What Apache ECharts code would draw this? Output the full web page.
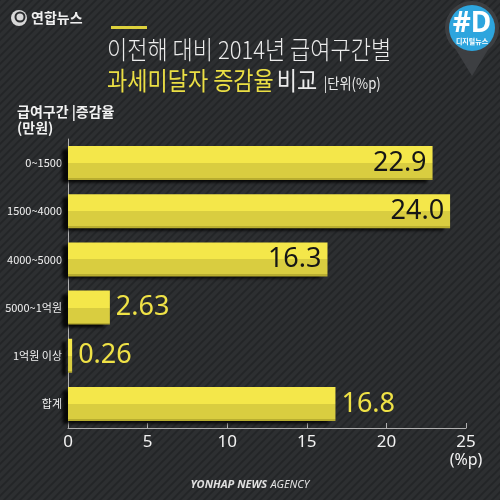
<!DOCTYPE html>
<html><head><meta charset="utf-8">
<script src="https://cdn.jsdelivr.net/npm/echarts@6/dist/echarts.min.js"></script>
<style>html,body{margin:0;padding:0;background:#2b2d2f}#c{width:500px;height:500px}</style>
</head><body><div id="c"></div>
<script>
const categories = ['0~1500', '1500~4000', '4000~5000', '5000~1억원', '1억원 이상', '합계'];
const values = [22.9, 24.0, 16.3, 2.63, 0.26, 16.8];
const labelsText = ['22.9', '24.0', '16.3', '2.63', '0.26', '16.8'];
const insideLabel = [true, true, true, false, false, false];
const xTicks = [0, 5, 10, 15, 20, 25];

// striped background pattern
const pc = document.createElement('canvas');
pc.width = 8; pc.height = 8;
const g = pc.getContext('2d');
g.fillStyle = '#2d2f31'; g.fillRect(0, 0, 8, 8);
g.strokeStyle = '#232527'; g.lineWidth = 1.6;
g.beginPath(); g.moveTo(0, 8); g.lineTo(8, 0); g.moveTo(-4, 4); g.lineTo(4, -4); g.moveTo(4, 12); g.lineTo(12, 4); g.stroke();

const chart = echarts.init(document.getElementById('c'));
const KR = '"Noto Sans CJK KR", "Noto Sans", sans-serif';

const barFill = {
  type: 'linear', x: 0, y: 0, x2: 0, y2: 1,
  colorStops: [
    { offset: 0, color: '#f4e74a' }, { offset: 0.5, color: '#f4e74a' },
    { offset: 0.5, color: '#d9cd40' }, { offset: 0.94, color: '#d9cd40' },
    { offset: 0.94, color: '#b8ad30' }, { offset: 1, color: '#b8ad30' }
  ]
};

const data = values.map((v, i) => ({
  value: v,
  label: insideLabel[i]
    ? { position: 'insideRight', color: '#161616', distance: 6 }
    : { position: 'right', color: '#efe246', distance: 6 }
}));

chart.setOption({
  backgroundColor: { image: pc, repeat: 'repeat' },
  animation: false,
  grid: { left: 68, right: 34, top: 139, bottom: 72, containLabel: false },
  xAxis: {
    type: 'value', min: 0, max: 25, interval: 5,
    splitLine: { show: false },
    axisLine: { show: true, lineStyle: { color: '#b0b0b0', width: 1 } },
    axisTick: { show: true, inside: true, length: 5, lineStyle: { color: '#b0b0b0' } },
    axisLabel: { color: '#f2f2f2', fontSize: 17, fontFamily: '"Noto Sans", sans-serif', margin: 6,
      formatter: v => xTicks.includes(v) ? String(v) : '' }
  },
  yAxis: {
    type: 'category', data: categories, inverse: true,
    axisLine: { show: true, lineStyle: { color: '#b0b0b0', width: 1 } },
    axisTick: { show: false },
    axisLabel: { color: '#f2f2f2', fontSize: 11, fontFamily: KR, margin: 6 }
  },
  series: [{
    type: 'bar', data: data, barWidth: 34,
    itemStyle: { color: barFill, shadowColor: 'rgba(0,0,0,0.85)', shadowOffsetX: -6, shadowOffsetY: 3, shadowBlur: 3 },
    label: { show: true, fontSize: 27, fontFamily: '"Noto Sans", sans-serif',
      formatter: p => labelsText[p.dataIndex] }
  }],
  graphic: [
    { type: 'rect', shape: { x: 111, y: 26, width: 36, height: 3 }, style: { fill: '#ddd13c' } },
    { type: 'text', x: 107, y: 49, scaleX: 0.88, style: { text: '이전해 대비 2014년 급여구간별', fill: '#ececec', font: '300 25px ' + KR, textVerticalAlign: 'middle' } },
    { type: 'text', x: 107, y: 80, scaleX: 0.88, style: {
        text: '{y|과세미달자 증감율} {w|비교} {s||단위(%p)}', textVerticalAlign: 'middle',
        rich: {
          y: { fill: '#ebdf44', font: '25px ' + KR },
          w: { fill: '#ececec', font: '25px ' + KR },
          s: { fill: '#ececec', font: '15px ' + KR, padding: [6, 0, 0, 4] }
        } } },
    { type: 'text', x: 17, y: 112, style: { text: '급여구간 |증감율', fill: '#f2f2f2', font: 'bold 14px ' + KR, textVerticalAlign: 'middle' } },
    { type: 'text', x: 17, y: 128, style: { text: '(만원)', fill: '#f2f2f2', font: 'bold 14px ' + KR, textVerticalAlign: 'middle' } },
    { type: 'text', x: 466, y: 460, style: { text: '(%p)', fill: '#f2f2f2', font: '16px "Noto Sans", sans-serif', textAlign: 'center', textVerticalAlign: 'middle' } },
    { type: 'text', x: 250, y: 485, style: {
        text: '{b|YONHAP NEWS} {r|AGENCY}', textAlign: 'center', textVerticalAlign: 'middle',
        rich: { b: { fill: '#e0e0e0', font: 'italic bold 11px "Noto Sans", sans-serif' },
                r: { fill: '#e0e0e0', font: 'italic 11px "Noto Sans", sans-serif' } } } },
    // logo
    { type: 'circle', shape: { cx: 19, cy: 18, r: 8 }, style: { fill: '#d8d8d8' } },
    { type: 'circle', shape: { cx: 20, cy: 17, r: 4.5 }, style: { fill: 'none', stroke: '#2b2d2f', lineWidth: 2 } },
    { type: 'text', x: 31, y: 18, style: { text: '연합뉴스', fill: '#f0f0f0', font: 'bold 14px ' + KR, textVerticalAlign: 'middle' } },
    // pin
    { type: 'polygon', shape: { points: [[450, 40], [472, 76], [494, 40]] }, style: { fill: '#3d3f42' } },
    { type: 'circle', shape: { cx: 472, cy: 28, r: 27 }, style: { fill: '#3d3f42' } },
    { type: 'circle', shape: { cx: 472, cy: 28, r: 23 }, style: { fill: '#2da5de' } },
    { type: 'text', x: 472, y: 24, style: { text: '#D', fill: '#ffffff', font: 'bold 28px "Noto Sans", sans-serif', textAlign: 'center', textVerticalAlign: 'middle' } },
    { type: 'text', x: 472, y: 41, style: { text: '디지털뉴스', fill: '#ffffff', font: 'bold 7px ' + KR, textAlign: 'center', textVerticalAlign: 'middle' } }
  ]
});
</script></body></html>
